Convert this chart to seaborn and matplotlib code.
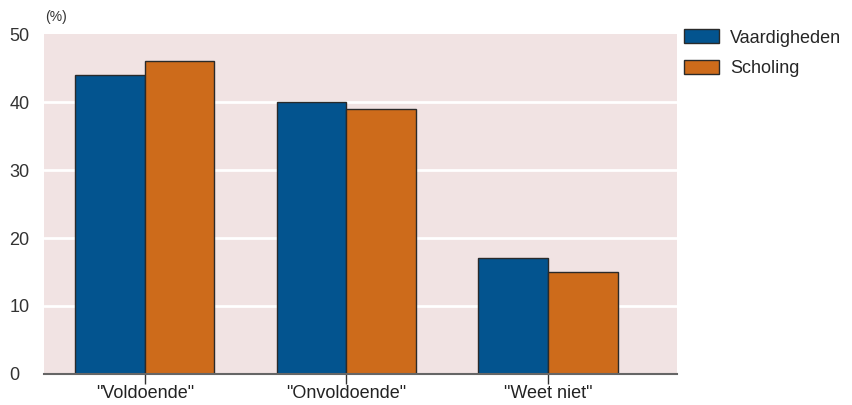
import matplotlib
matplotlib.use("Agg")
import matplotlib.pyplot as plt
import seaborn as sns
import pandas as pd

categories = ['"Voldoende"', '"Onvoldoende"', '"Weet niet"']
series_names = ["Vaardigheden", "Scholing"]
vaardigheden = [44, 40, 17]
scholing = [46, 39, 15]
y_ticks = [0, 10, 20, 30, 40, 50]

df = pd.DataFrame({
    "categorie": categories * 2,
    "reeks": [series_names[0]] * 3 + [series_names[1]] * 3,
    "waarde": vaardigheden + scholing,
})

sns.set_theme(style="ticks")
plt.rcParams["font.family"] = ["Liberation Sans", "DejaVu Sans"]

fig = plt.figure(figsize=(8.52, 4.05), dpi=100)
ax = fig.add_axes([44 / 852, 31 / 405, 633 / 852, 340 / 405])

palette = {"Vaardigheden": "#03548f", "Scholing": "#cd6b1b"}
sns.barplot(data=df, x="categorie", y="waarde", hue="reeks", palette=palette,
            width=0.69, edgecolor="#2a2a2a", linewidth=1.0, saturation=1,
            ax=ax, zorder=3)

ax.set_facecolor("#f1e3e3")
ax.set_ylim(0, 50)
ax.set_xlim(-0.5, 2.64)
ax.set_yticks(y_ticks)
ax.set_yticklabels([str(t) for t in y_ticks], fontsize=13, color="#333333")
for t in ax.get_yticklabels():
    t.set_horizontalalignment("left")
ax.tick_params(axis="y", length=0, pad=25, left=True)
ax.tick_params(axis="x", direction="out", length=7, width=1, color="#333333",
               pad=1, labelsize=13, labelcolor="#222222", bottom=True)
for g in y_ticks[1:-1]:
    ax.axhline(g, color="white", linewidth=2, zorder=1)
for s in ["top", "right", "left"]:
    ax.spines[s].set_visible(False)
ax.spines["bottom"].set_color("#666666")
ax.spines["bottom"].set_linewidth(1.5)
ax.spines["bottom"].set_zorder(4)
ax.set_xlabel("")
ax.set_ylabel("")

fig.text(45 / 852, 1 - 17 / 405, "(%)", fontsize=10, color="#333333",
         va="center", ha="left")

ax.legend(loc="upper left", bbox_to_anchor=(1.0, 1.035), frameon=False,
          fontsize=13, handlelength=1.9, handleheight=0.8, handletextpad=0.65,
          labelspacing=0.75, borderaxespad=0)

fig.savefig("out.png", dpi=100)
